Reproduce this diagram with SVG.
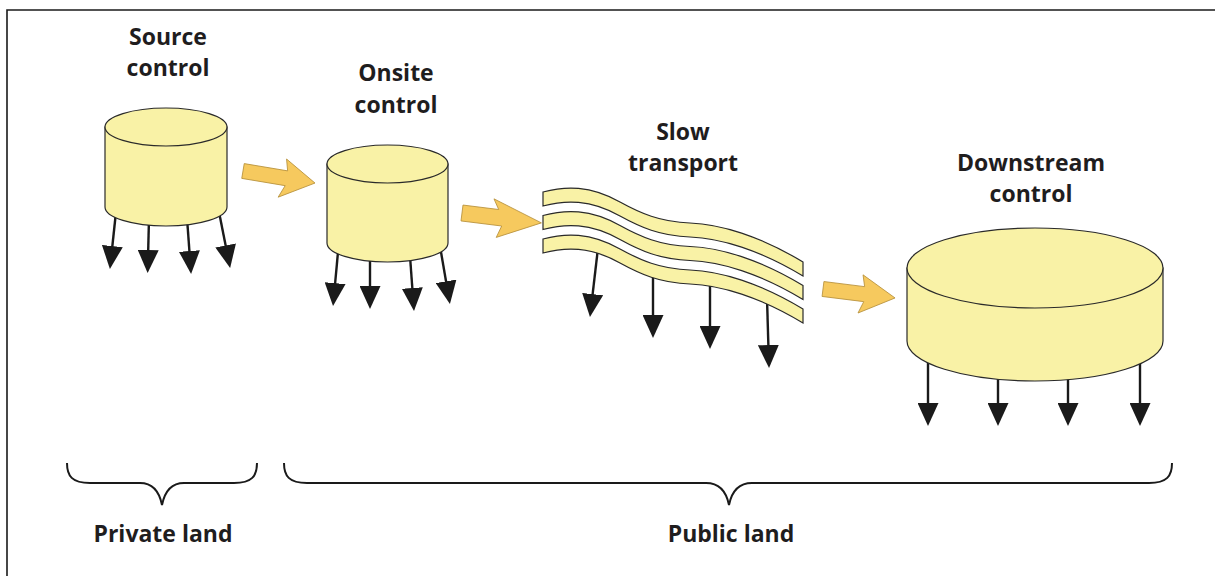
<svg xmlns="http://www.w3.org/2000/svg" width="1215" height="576" viewBox="0 0 1215 576">
  <style>
    .label { font-family: "Open Sans", "Liberation Sans", sans-serif; font-weight: 700; font-size: 23px; fill: #1f1d1e; text-anchor: middle; }
    .tank { fill: #f9f2a6; stroke: #2a2a2a; stroke-width: 1.2; }
    .band { fill: #f9f2a6; stroke: #2a2a2a; stroke-width: 1.2; }
    .flow { fill: #f6c95e; stroke: #b58f3a; stroke-width: 0.8; }
    .leak { stroke: #1a1a1a; stroke-width: 2.4; fill: none; marker-end: url(#head); }
    .brace { fill: none; stroke: #1a1a1a; stroke-width: 2; }
  </style>
  <defs>
    <marker id="head" viewBox="0 0 23 21" refX="8" refY="10.5" markerWidth="23" markerHeight="21" markerUnits="userSpaceOnUse" orient="auto">
      <path d="M0 0 L23 10.5 L0 21 Z" fill="#1a1a1a"/>
    </marker>
    <!-- one wavy strip; the three channels are copies shifted down -->
    <path id="strip" d="M543 192 C565 186 590 185 620 202 C640 213 660 222 690 223 C720 224 760 236 803 262 L803 276 C760 250 720 238 690 237 C660 236 640 227 620 216 C590 199 565 200 543 206 Z"/>
  </defs>

  <rect x="0" y="0" width="1215" height="576" fill="#ffffff"/>
  <!-- frame -->
  <path d="M7 576 L7 10 L1215 10" fill="none" stroke="#1a1a1a" stroke-width="1.6"/>

  <!-- seepage arrows below each stage, and flow arrows between stages -->
  <g id="connectors">
    <line class="leak" x1="116" y1="212" x2="111.5" y2="254"/>
    <line class="leak" x1="149" y1="218" x2="148" y2="258"/>
    <line class="leak" x1="187" y1="218" x2="190" y2="259"/>
    <line class="leak" x1="219" y1="212" x2="227.2" y2="253.3"/>

    <line class="leak" x1="338" y1="252" x2="334.4" y2="291.1"/>
    <line class="leak" x1="370" y1="256" x2="370" y2="294"/>
    <line class="leak" x1="410" y1="256" x2="412.9" y2="296"/>
    <line class="leak" x1="441" y1="252" x2="447.4" y2="289.2"/>

    <line class="leak" x1="598" y1="248" x2="591.7" y2="302.1"/>
    <line class="leak" x1="653" y1="273" x2="653" y2="323"/>
    <line class="leak" x1="710" y1="282" x2="710" y2="334"/>
    <line class="leak" x1="767" y1="298" x2="768.6" y2="353"/>

    <line class="leak" x1="928" y1="355" x2="928" y2="411"/>
    <line class="leak" x1="998" y1="370" x2="998" y2="411"/>
    <line class="leak" x1="1068" y1="370" x2="1068" y2="411"/>
    <line class="leak" x1="1140" y1="355" x2="1140" y2="411"/>

    <polygon class="flow" transform="translate(243 171) rotate(9.5)" points="0,-7.5 44,-7.5 41,-19 73,0 39,20 44,7.5 0,7.5"/>
    <polygon class="flow" transform="translate(462 213) rotate(7.1)" points="0,-8 36,-8 30,-18 80,0 37,20 41,8 0,8"/>
    <polygon class="flow" transform="translate(823 289) rotate(7.1)" points="0,-7.5 41,-7.5 38,-19 72.6,0 37.7,19.5 42,7.5 0,7.5"/>
  </g>

  <g id="source-control">
    <path class="tank" d="M105 127 L105 207 A61 19 0 0 0 227 207 L227 127 Z"/>
    <ellipse class="tank" cx="166" cy="127" rx="61" ry="19"/>
    <text class="label" x="168" y="44.5">Source<tspan x="168" dy="31.5">control</tspan></text>
  </g>

  <g id="onsite-control">
    <path class="tank" d="M327 164 L327 243 A60.5 19 0 0 0 448 243 L448 164 Z"/>
    <ellipse class="tank" cx="387.5" cy="164" rx="60.5" ry="19"/>
    <text class="label" x="396" y="81">Onsite<tspan x="396" dy="31.5">control</tspan></text>
  </g>

  <g id="slow-transport">
    <use href="#strip" class="band"/>
    <use href="#strip" class="band" transform="translate(0 23.5)"/>
    <use href="#strip" class="band" transform="translate(0 47)"/>
    <text class="label" x="683" y="139.5">Slow<tspan x="683" dy="31.5">transport</tspan></text>
  </g>

  <g id="downstream-control">
    <path class="tank" d="M907 268 L907 341 A128 40 0 0 0 1163 341 L1163 268 Z"/>
    <ellipse class="tank" cx="1035" cy="268" rx="128" ry="40"/>
    <text class="label" x="1031" y="170.5">Downstream<tspan x="1031" dy="31.5">control</tspan></text>
  </g>

  <g id="private-land">
    <path class="brace" d="M67 463 C67 476 72 483 90 483 L140 483 C152 483 159 490 162 505 C165 490 172 483 184 483 L234 483 C252 483 257 476 257 463"/>
    <text class="label" x="163" y="542" font-size="24">Private land</text>
  </g>

  <g id="public-land">
    <path class="brace" d="M284 463 C284 476 289 483 307 483 L706 483 C718 483 726 490 729 505 C732 490 740 483 752 483 L1149 483 C1167 483 1172 476 1172 463"/>
    <text class="label" x="731" y="542" font-size="24">Public land</text>
  </g>
</svg>
